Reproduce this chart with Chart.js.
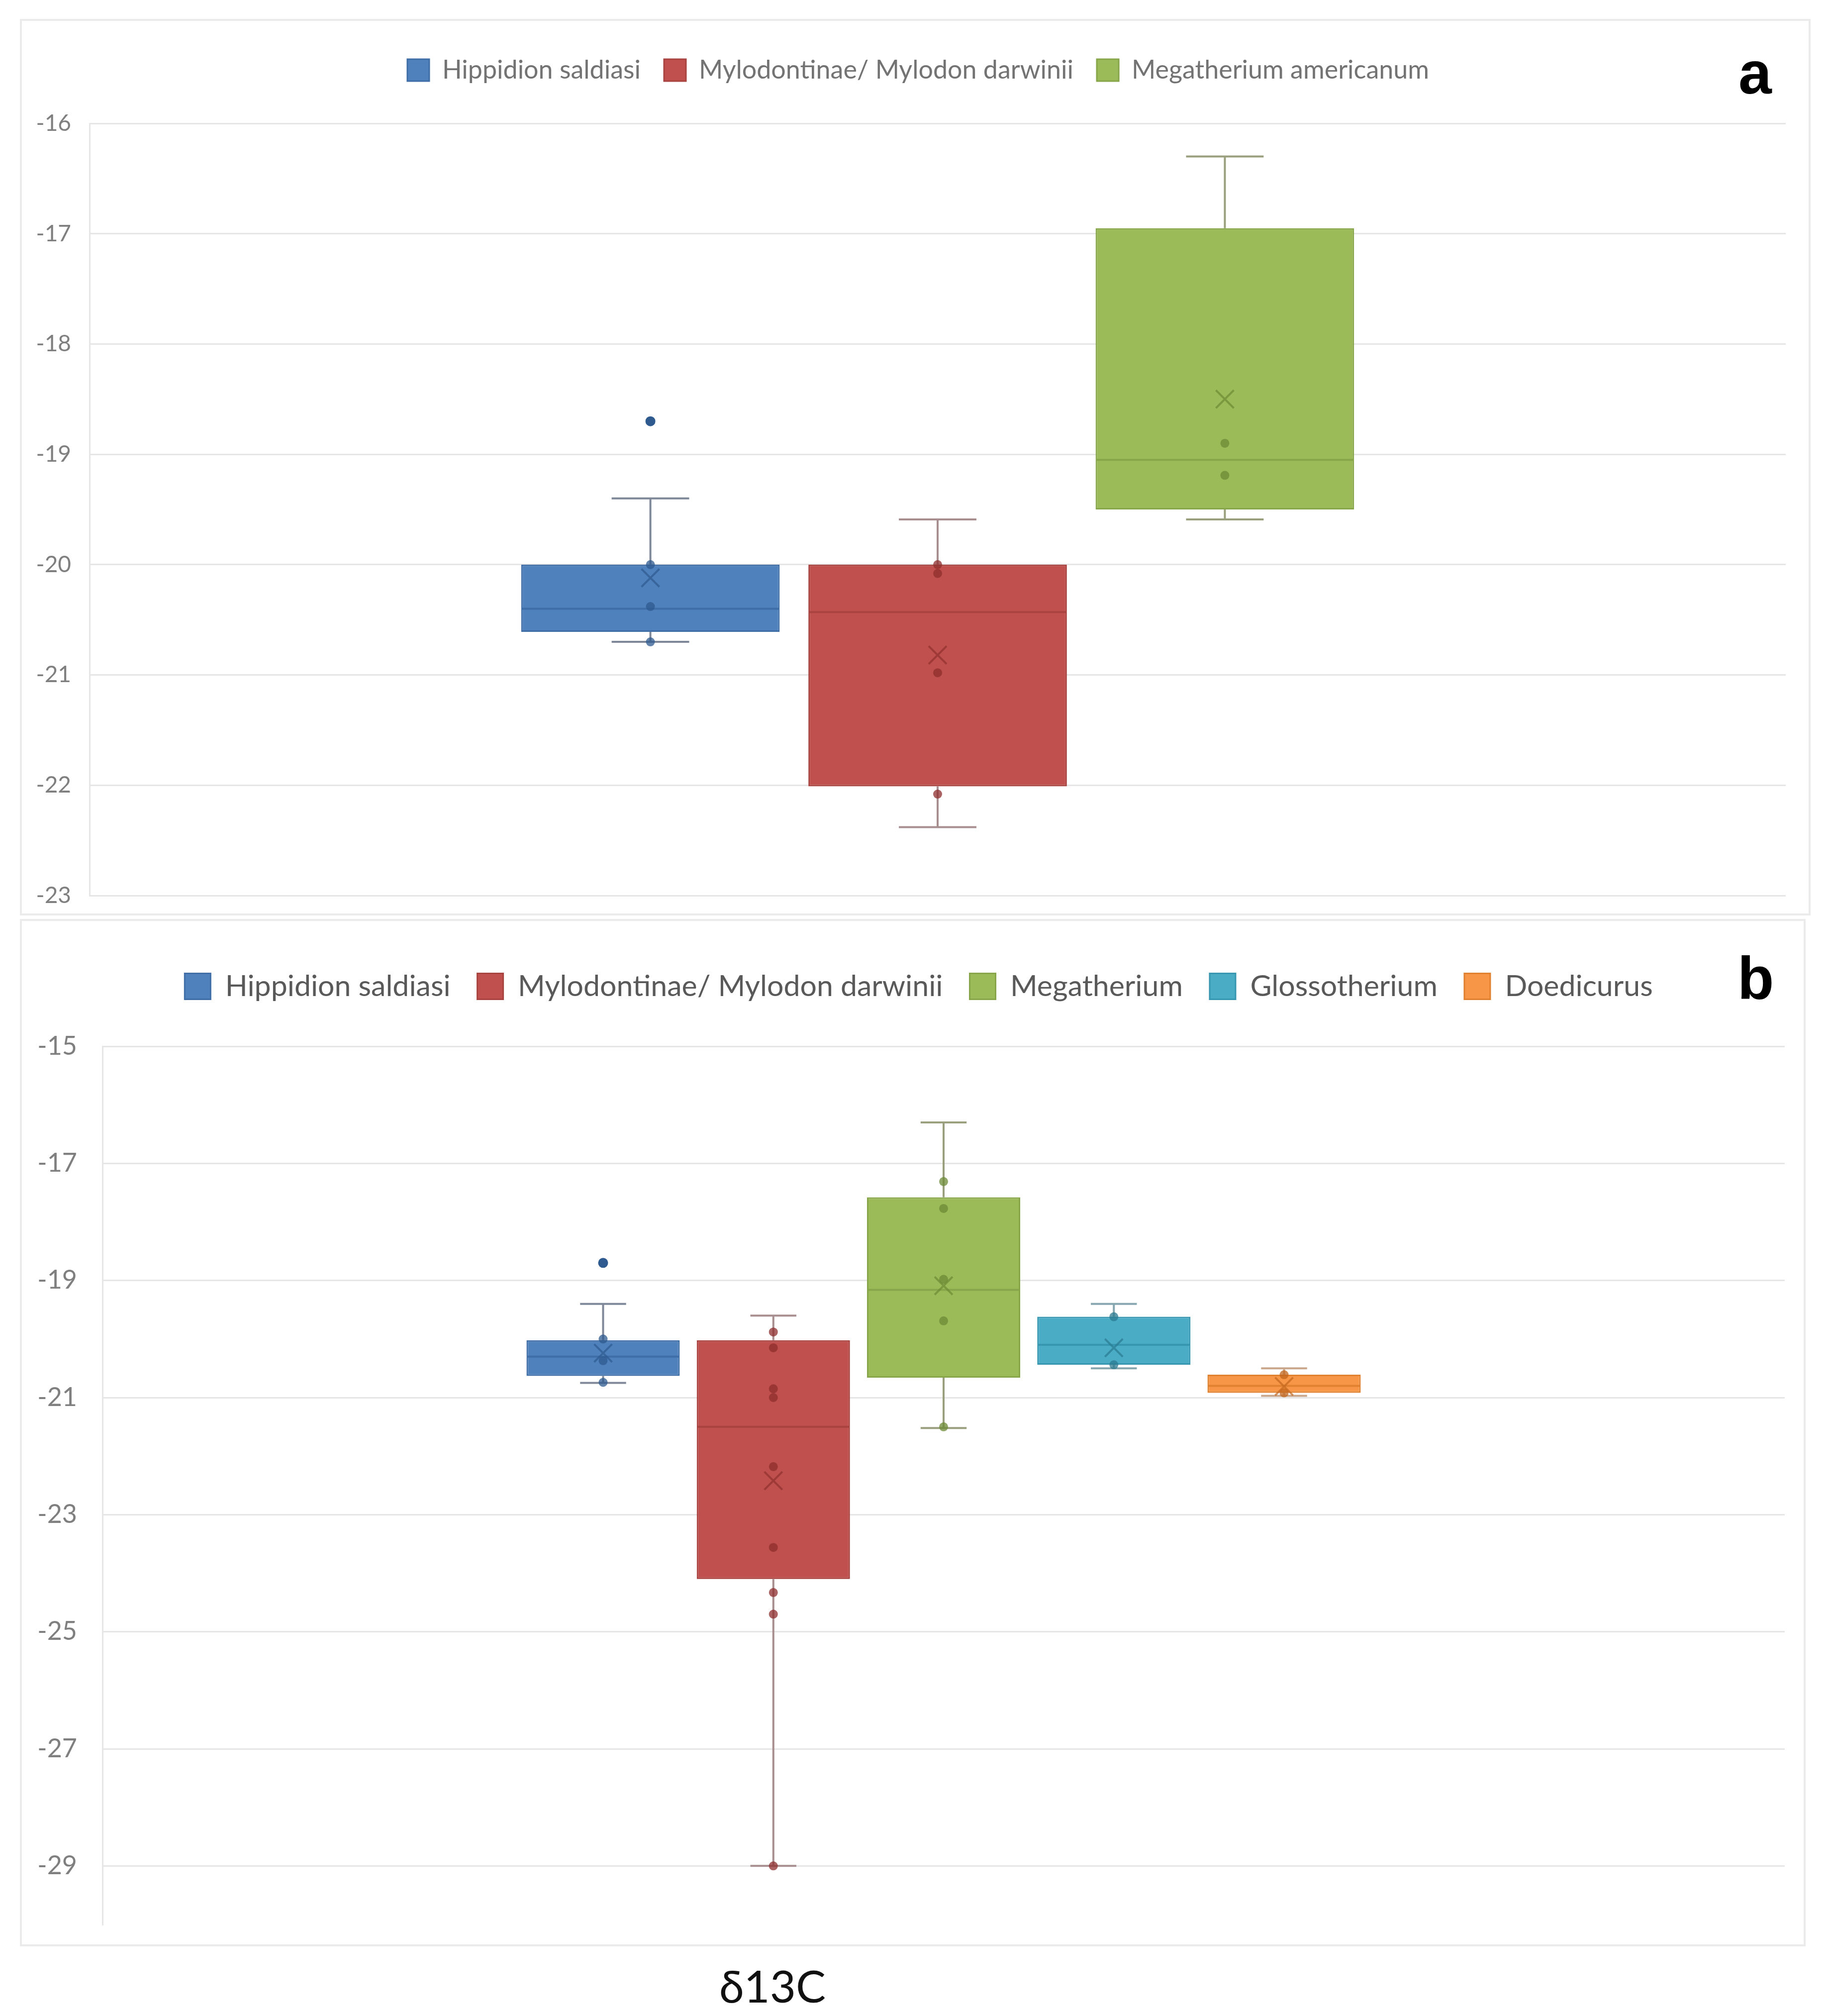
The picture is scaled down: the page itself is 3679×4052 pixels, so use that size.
<!DOCTYPE html>
<html lang="en">
<head>
<meta charset="utf-8">
<style>
    body {
        margin: 0;
        width: 3679px;
        height: 4052px;
        position: relative;
        overflow: hidden;
        background: #fff;
        font-family: Lato, 'Noto Sans', sans-serif;
    }

    .frame {
        position: absolute;
        border: 4px solid #ebebeb;
        box-sizing: border-box;
    }

    .holder {
        position: absolute;
    }

    #frameA, #holderA { left: 40px; top: 38px; width: 3600px; height: 1802px; }
    #frameB, #holderB { left: 40px; top: 1847px; width: 3590px; height: 2065px; }

    .tag {
        position: absolute;
        font-family: 'Liberation Sans', Arial, sans-serif;
        font-weight: bold;
        font-size: 120px;
        line-height: 1;
        color: #000;
    }

    #tagA { left: 3495px; top: 86px; }
    #tagB { left: 3493px; top: 1906px; }

    #xTitle {
        position: absolute;
        left: 1446px;
        top: 3945px;
        font-size: 90px;
        line-height: 1;
        color: #111;
    }
</style>
</head>
<body>

<div class="frame" id="frameA"></div>
<div class="frame" id="frameB"></div>

<div class="holder" id="holderA"><canvas id="chartA"></canvas></div>
<div class="holder" id="holderB"><canvas id="chartB"></canvas></div>

<div class="tag" id="tagA">a</div>
<div class="tag" id="tagB">b</div>
<div id="xTitle">δ13C</div>

<script src="https://cdn.jsdelivr.net/npm/chart.js"></script>
<script>
    // ---- panel a data ----
    const aCategories = ['δ13C'];
    const aSeries = ['Hippidion saldiasi', 'Mylodontinae/ Mylodon darwinii', 'Megatherium americanum'];
    const aQ1 = [-20.61, -22.01, -19.50];
    const aQ3 = [-20.00, -20.00, -16.95];
    const aMedian = [-20.40, -20.43, -19.05];
    const aMean = [-20.12, -20.82, -18.50];
    const aLow = [-20.70, -22.38, -19.59];
    const aHigh = [-19.40, -19.59, -16.30];
    const aPoints = [[-20.00, -20.38, -20.70], [-20.00, -20.08, -20.98, -22.08], [-18.90, -19.19]];
    const aOutliers = [[-18.70], [], []];
    const aTicks = [-16, -17, -18, -19, -20, -21, -22, -23];

    // ---- panel b data ----
    const bCategories = ['δ13C'];
    const bSeries = ['Hippidion saldiasi', 'Mylodontinae/ Mylodon darwinii', 'Megatherium', 'Glossotherium', 'Doedicurus'];
    const bQ1 = [-20.63, -24.10, -20.66, -20.44, -20.92];
    const bQ3 = [-20.02, -20.02, -17.58, -19.62, -20.61];
    const bMedian = [-20.30, -21.50, -19.16, -20.10, -20.80];
    const bMean = [-20.24, -22.42, -19.09, -20.15, -20.81];
    const bLow = [-20.75, -29.00, -21.52, -20.50, -20.97];
    const bHigh = [-19.40, -19.60, -16.30, -19.40, -20.50];
    const bPoints = [
        [-20.00, -20.37, -20.74],
        [-19.88, -20.15, -20.85, -21.00, -22.18, -23.56, -24.33, -24.70, -29.00],
        [-17.31, -17.77, -18.98, -19.69, -21.50],
        [-19.62, -20.44],
        [-20.61, -20.92]
    ];
    const bOutliers = [[-18.70], [], [], [], []];
    const bTicks = [-15, -17, -19, -21, -23, -25, -27, -29];

    // Excel 2007 style palette
    const fills = ['#4F81BD', '#C0504D', '#9BBB59', '#4BACC6', '#F79646'];
    const edges = ['#3F6EA7', '#A84340', '#87A64A', '#3797B0', '#E0812F'];
    const darks = ['#2E5A8F', '#8E2F2D', '#6C8A35', '#2A7A90', '#C2661E'];
    const whiskers = ['#7f8899', '#a88e8f', '#9aa07e', '#86a6b0', '#caa68a'];

    const family = "Lato, 'Noto Sans', sans-serif";

    // fixed legend height (so the plot area lands where it should) and a small sideways nudge
    const legendBox = {
        id: 'legendBox',
        beforeInit(chart, args, opts) {
            const lg = chart.legend;
            const fit = lg.fit;
            lg.fit = function () {
                fit.call(this);
                this.height = opts.height;
            };
        },
        afterLayout(chart, args, opts) {
            chart.legend.left += opts.shift;
            chart.legend.right += opts.shift;
        }
    };

    // whiskers, median, mean cross and points on top of the floating bars
    const boxParts = {
        id: 'boxParts',
        afterDatasetsDraw(chart) {
            const ctx = chart.ctx;
            const y = chart.scales.y;
            const py = v => y.getPixelForValue(v);

            chart.data.datasets.forEach((ds, i) => {
                const bar = chart.getDatasetMeta(i).data[0];
                const s = ds.stats;
                const cx = bar.x;
                const half = bar.width / 2;
                const cap = bar.width * 0.15;

                ctx.save();

                ctx.strokeStyle = whiskers[i];
                ctx.lineWidth = 4;
                ctx.beginPath();
                ctx.moveTo(cx, py(s.q3)); ctx.lineTo(cx, py(s.high));
                ctx.moveTo(cx - cap, py(s.high)); ctx.lineTo(cx + cap, py(s.high));
                ctx.moveTo(cx, py(s.q1)); ctx.lineTo(cx, py(s.low));
                ctx.moveTo(cx - cap, py(s.low)); ctx.lineTo(cx + cap, py(s.low));
                ctx.stroke();

                ctx.strokeStyle = edges[i];
                ctx.lineWidth = 4;
                ctx.beginPath();
                ctx.moveTo(cx - half + 2, py(s.median));
                ctx.lineTo(cx + half - 2, py(s.median));
                ctx.stroke();

                ctx.globalAlpha = 0.75;
                ctx.fillStyle = darks[i];
                s.points.forEach(v => {
                    ctx.beginPath();
                    ctx.arc(cx, py(v), 9, 0, Math.PI * 2);
                    ctx.fill();
                });
                ctx.globalAlpha = 1;
                s.outliers.forEach(v => {
                    ctx.beginPath();
                    ctx.arc(cx, py(v), 10, 0, Math.PI * 2);
                    ctx.fill();
                });

                const m = py(s.mean);
                ctx.globalAlpha = 0.7;
                ctx.strokeStyle = darks[i];
                ctx.lineWidth = 4;
                ctx.beginPath();
                ctx.moveTo(cx - 18, m - 18); ctx.lineTo(cx + 18, m + 18);
                ctx.moveTo(cx + 18, m - 18); ctx.lineTo(cx - 18, m + 18);
                ctx.stroke();

                ctx.restore();
            });
        }
    };

    function buildDatasets(names, q1, q3, median, mean, low, high, points, outliers) {
        return names.map((name, i) => ({
            label: name,
            data: [[q1[i], q3[i]]],
            backgroundColor: fills[i],
            borderColor: edges[i],
            borderWidth: 3,
            borderSkipped: false,
            stats: {
                q1: q1[i], q3: q3[i], median: median[i], mean: mean[i],
                low: low[i], high: high[i], points: points[i], outliers: outliers[i]
            }
        }));
    }

    function drawPanel(canvasId, p) {
        new Chart(document.getElementById(canvasId), {
            type: 'bar',
            data: { labels: p.categories, datasets: p.datasets },
            options: {
                responsive: true,
                maintainAspectRatio: false,
                animation: false,
                categoryPercentage: p.catPct,
                barPercentage: p.barPct,
                layout: { padding: p.padding },
                plugins: {
                    tooltip: { enabled: false },
                    legendBox: { height: p.legendHeight, shift: p.legendShift },
                    legend: {
                        position: 'top',
                        labels: {
                            boxWidth: p.legendSwatch,
                            boxHeight: p.legendSwatch,
                            padding: p.legendGap,
                            color: p.legendColor,
                            font: { family: family, size: p.legendFont }
                        }
                    }
                },
                scales: {
                    x: { display: false },
                    y: {
                        min: p.min,
                        max: p.max,
                        afterBuildTicks: scale => { scale.ticks = p.ticks.map(v => ({ value: v })); },
                        afterFit: scale => { scale.width = p.axisWidth; },
                        // invisible tick marks give the label gap without adding vertical padding
                        grid: {
                            color: '#e6e6e6', lineWidth: 3,
                            drawTicks: true, tickLength: p.tickGap, tickColor: 'rgba(0,0,0,0)'
                        },
                        border: { display: true, color: '#e6e6e6', width: 3 },
                        ticks: {
                            color: '#7f7f7f',
                            padding: 0,
                            font: { family: family, size: p.tickFont },
                            callback: v => String(v)
                        }
                    }
                }
            },
            plugins: [legendBox, boxParts]
        });
    }

    drawPanel('chartA', {
        categories: aCategories,
        datasets: buildDatasets(aSeries, aQ1, aQ3, aMedian, aMean, aLow, aHigh, aPoints, aOutliers),
        ticks: aTicks, min: -23, max: -16,
        catPct: 0.508, barPct: 0.90,
        padding: { top: 30, right: 50, bottom: 40, left: 0 },
        legendHeight: 180, legendShift: 31, legendSwatch: 44, legendGap: 47, legendFont: 52, legendColor: '#737373',
        axisWidth: 140, tickGap: 37, tickFont: 46
    });

    drawPanel('chartB', {
        categories: bCategories,
        datasets: buildDatasets(bSeries, bQ1, bQ3, bMedian, bMean, bLow, bHigh, bPoints, bOutliers),
        ticks: bTicks, min: -30, max: -15,
        catPct: 0.506, barPct: 0.90,
        padding: { top: 52, right: 42, bottom: 44, left: 0 },
        legendHeight: 204, legendShift: 33, legendSwatch: 52, legendGap: 54, legendFont: 59, legendColor: '#595959',
        axisWidth: 166, tickGap: 51, tickFont: 52
    });
</script>

</body>
</html>
